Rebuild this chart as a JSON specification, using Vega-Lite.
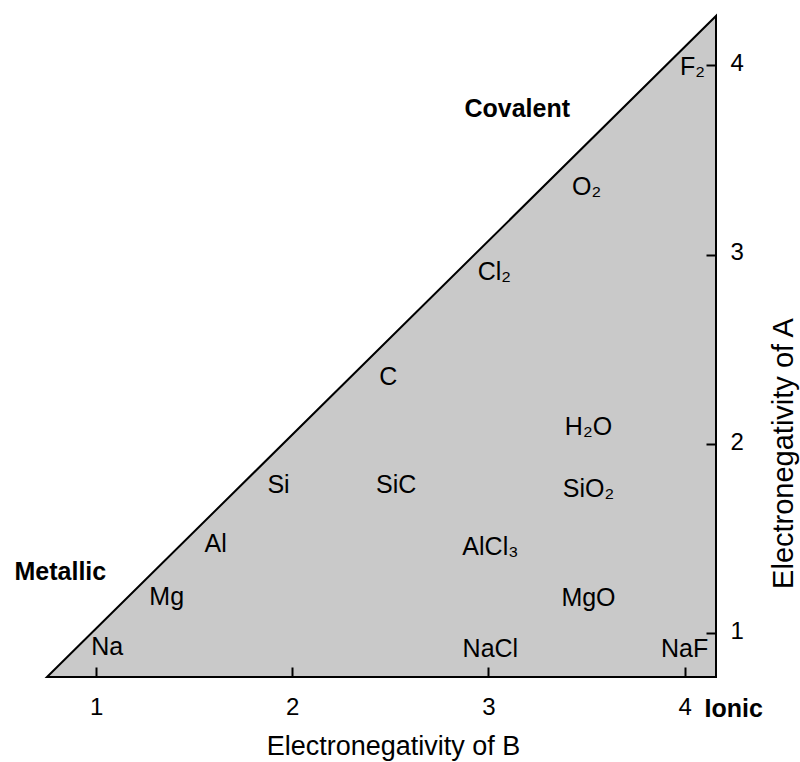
{
  "$schema": "https://vega.github.io/schema/vega-lite/v6.json",
  "width": 669,
  "height": 661,
  "autosize": "none",
  "padding": {"left": 47, "top": 16, "right": 84, "bottom": 85},
  "background": "white",
  "config": {
    "view": {"stroke": null},
    "font": "Liberation Sans"
  },
  "datasets": {
    "triangle": [
      {"b": 0.75, "a": 0.77},
      {"b": 4.16, "a": 4.26}
    ],
    "labels": [
      {"label": "F₂", "b": 4.04, "a": 3.95, "kind": "compound"},
      {"label": "O₂", "b": 3.50, "a": 3.315, "kind": "compound"},
      {"label": "Cl₂", "b": 3.03, "a": 2.866, "kind": "compound"},
      {"label": "C", "b": 2.49, "a": 2.312, "kind": "compound"},
      {"label": "H₂O", "b": 3.51, "a": 2.048, "kind": "compound"},
      {"label": "SiO₂", "b": 3.51, "a": 1.72, "kind": "compound"},
      {"label": "AlCl₃", "b": 3.01, "a": 1.414, "kind": "compound"},
      {"label": "MgO", "b": 3.51, "a": 1.145, "kind": "compound"},
      {"label": "NaCl", "b": 3.01, "a": 0.876, "kind": "compound"},
      {"label": "NaF", "b": 4.00, "a": 0.876, "kind": "compound"},
      {"label": "Si", "b": 1.93, "a": 1.742, "kind": "compound"},
      {"label": "SiC", "b": 2.53, "a": 1.742, "kind": "compound"},
      {"label": "Al", "b": 1.61, "a": 1.43, "kind": "compound"},
      {"label": "Mg", "b": 1.36, "a": 1.15, "kind": "compound"},
      {"label": "Na", "b": 1.057, "a": 0.886, "kind": "compound"},
      {"label": "Covalent", "b": 3.147, "a": 3.727, "kind": "region"},
      {"label": "Metallic", "b": 0.818, "a": 1.282, "kind": "region"},
      {"label": "Ionic", "b": 4.25, "a": 0.559, "kind": "region"}
    ]
  },
  "layer": [
    {
      "data": {"name": "triangle"},
      "mark": {"type": "area", "fill": "#c9c9c9", "stroke": "black", "strokeWidth": 2, "strokeJoin": "miter"},
      "encoding": {
        "x": {
          "field": "b", "type": "quantitative",
          "scale": {"domain": [0.75, 4.16], "nice": false, "zero": false},
          "axis": {
            "zindex": 2,
            "values": [1, 2, 3, 4],
            "format": "d",
            "domain": false,
            "grid": false,
            "tickSize": -10,
            "tickWidth": 2,
            "tickColor": "black",
            "labelFontSize": 24,
            "labelColor": "black",
            "labelPadding": 28,
            "title": "Electronegativity of B",
            "titleFontSize": 27,
            "titleFontWeight": "normal",
            "titleColor": "black",
            "titlePadding": 14,
            "titleX": 346
          }
        },
        "y": {
          "field": "a", "type": "quantitative",
          "scale": {"domain": [0.77, 4.26], "nice": false, "zero": false},
          "axis": {
            "zindex": 2,
            "orient": "right",
            "values": [1, 2, 3, 4],
            "format": "d",
            "domain": false,
            "grid": false,
            "tickSize": -10,
            "tickWidth": 2,
            "tickColor": "black",
            "labelFontSize": 24,
            "labelColor": "black",
            "labelPadding": 24,
            "labelOffset": -2,
            "title": "Electronegativity of A",
            "titleAngle": 270,
            "titleFontSize": 29,
            "titleFontWeight": "normal",
            "titleColor": "black",
            "titlePadding": 55,
            "titleY": 437
          }
        },
        "y2": {"datum": 0.77}
      }
    },
    {
      "data": {"name": "labels"},
      "transform": [{"filter": "datum.kind === 'compound'"}],
      "mark": {"type": "text", "baseline": "alphabetic", "align": "center", "fontSize": 25, "color": "black"},
      "encoding": {
        "x": {"field": "b", "type": "quantitative"},
        "y": {"field": "a", "type": "quantitative"},
        "text": {"field": "label"}
      }
    },
    {
      "data": {"name": "labels"},
      "transform": [{"filter": "datum.kind === 'region'"}],
      "mark": {"type": "text", "baseline": "alphabetic", "align": "center", "fontSize": 25, "fontWeight": "bold", "color": "black"},
      "encoding": {
        "x": {"field": "b", "type": "quantitative"},
        "y": {"field": "a", "type": "quantitative"},
        "text": {"field": "label"}
      }
    }
  ]
}
